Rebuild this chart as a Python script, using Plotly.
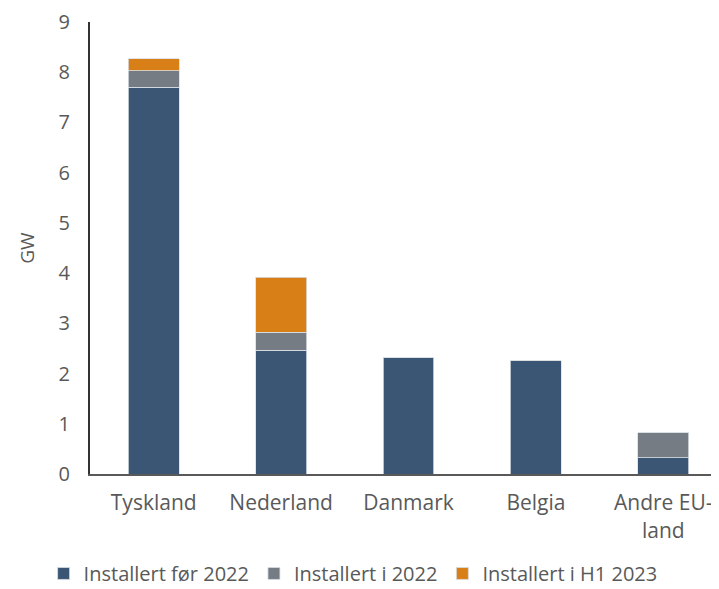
import plotly.graph_objects as go

categories = ["Tyskland", "Nederland", "Danmark", "Belgia", "Andre EU-<br>land"]
installert_for_2022 = [7.70, 2.46, 2.31, 2.26, 0.32]
installert_i_2022 = [0.33, 0.36, 0.0, 0.0, 0.50]
installert_h1_2023 = [0.24, 1.10, 0.0, 0.0, 0.0]
y_ticks = [0, 1, 2, 3, 4, 5, 6, 7, 8, 9]

series = [
    ("Installert før 2022", installert_for_2022, "#3A5674"),
    ("Installert i 2022", installert_i_2022, "#757C84"),
    ("Installert i H1 2023", installert_h1_2023, "#D97F17"),
]

fig = go.Figure()
for name, vals, color in series:
    fig.add_trace(go.Bar(
        x=categories, y=vals, name=name,
        marker=dict(color=color, line=dict(color="#D9DEE4", width=0.8)),
    ))

font_family = "'Open Sans', sans-serif"
fig.update_layout(
    barmode="stack",
    bargap=0.6,
    width=719, height=589,
    margin=dict(l=82, r=0, t=14, b=123, autoexpand=False),
    paper_bgcolor="white", plot_bgcolor="white",
    font=dict(family=font_family, size=21, color="#595959"),
    showlegend=True,
    legend=dict(
        orientation="h", traceorder="normal",
        xref="container", yref="container",
        x=0.48, xanchor="center", y=0.04, yanchor="middle",
        font=dict(size=20, color="#595959"),
        itemwidth=30, tracegroupgap=0,
    ),
    xaxis=dict(
        showline=True, linecolor="#595959", linewidth=2,
        ticks="", showgrid=False, zeroline=False, automargin=False,
        ticklabelstandoff=9,
        tickfont=dict(size=21, color="#595959"),
    ),
    yaxis=dict(
        range=[0, 9], tickvals=y_ticks,
        showline=True, linecolor="#333333", linewidth=2,
        ticks="", ticklabelstandoff=14, showgrid=False, zeroline=False,
        automargin=False, ticklabeloverflow="allow",
        tickfont=dict(size=20, color="#595959"),
        title=dict(text="GW", font=dict(size=19, color="#595959"), standoff=19),
    ),
)

fig.write_html("out.html")
